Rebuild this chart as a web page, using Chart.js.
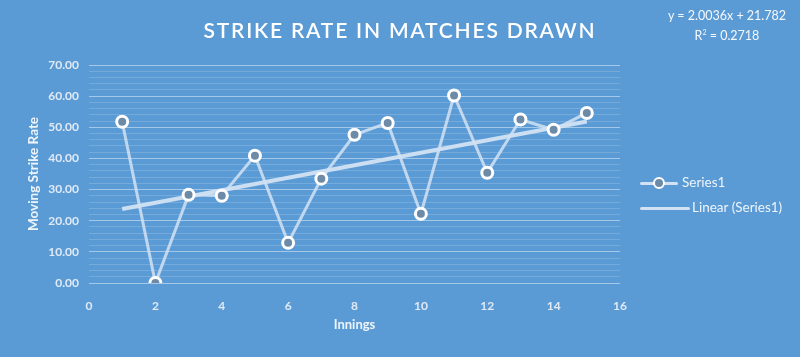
<!DOCTYPE html>
<html>
<head>
<meta charset="utf-8">
<script src="https://cdn.jsdelivr.net/npm/chart.js@4"></script>
<style>
  html, body { margin: 0; padding: 0; }
  body { width: 800px; height: 357px; background: #5b9bd5; position: relative; overflow: hidden; font-family: 'Lato', 'Open Sans', sans-serif; color: #f2f6fb; }
  #wrap { position: absolute; left: 0; top: 0; width: 800px; height: 357px; }
  #title { position: absolute; left: 0; top: 17px; width: 800px; text-align: center; font-size: 21px; line-height: 26px; font-weight: 600; letter-spacing: 1.8px; color: #ffffff; }
  #eq { position: absolute; left: 660px; top: 8px; width: 134px; text-align: center; font-size: 12.5px; line-height: 16px; color: #f4f8fc; }
  .leg { position: absolute; font-size: 13.5px; color: #eef4fa; white-space: nowrap; }
  .leg .ln { position: absolute; height: 3px; background: #d3e2f2; border-radius: 2px; }
  .leg .dot { position: absolute; width: 8px; height: 8px; border: 2.5px solid #ffffff; border-radius: 50%; background: #6d8aa6; }
</style>
</head>
<body>
<div id="wrap"><canvas id="c" width="800" height="357"></canvas></div>
<div id="title">STRIKE RATE IN MATCHES DRAWN</div>
<div id="eq">y = 2.0036x + 21.782<br>R<sup style="font-size:7px">2</sup> = 0.2718</div>
<div class="leg" style="left:640px; top:174px; width:150px; height:18px;">
  <div class="ln" style="left:0; top:8px; width:38px;"></div>
  <div class="dot" style="left:13px; top:3px;"></div>
  <span style="position:absolute; left:42px; top:0;">Series1</span>
</div>
<div class="leg" style="left:640px; top:199px; width:160px; height:18px;">
  <div class="ln" style="left:0; top:8px; width:50px;"></div>
  <span style="position:absolute; left:52px; top:0;">Linear (Series1)</span>
</div>
<script>
// innings and moving strike rate
const innings = [1, 2, 3, 4, 5, 6, 7, 8, 9, 10, 11, 12, 13, 14, 15];
const strikeRate = [51.8, 0, 28.3, 28.0, 40.9, 12.9, 33.5, 47.6, 51.4, 22.2, 60.2, 35.4, 52.5, 49.2, 54.6];

// linear trend endpoints (y = 2.0036x + 21.782 at x = 1 and x = 15)
const trendX = [1, 15];
const trendY = [23.79, 51.84];

const yMajorLabels = ['0.00', '10.00', '20.00', '30.00', '40.00', '50.00', '60.00', '70.00'];
const xTickLabels = ['0', '2', '4', '6', '8', '10', '12', '14', '16'];

const seriesPoints = innings.map((x, i) => ({ x: x, y: strikeRate[i] }));
const trendPoints = trendX.map((x, i) => ({ x: x, y: trendY[i] }));

const tickColor = '#dfeaf6';

new Chart(document.getElementById('c').getContext('2d'), {
  type: 'scatter',
  data: {
    datasets: [
      {
        label: 'Linear (Series1)',
        data: trendPoints,
        showLine: true,
        borderColor: 'rgba(215, 230, 245, 0.9)',
        borderWidth: 4,
        pointRadius: 0,
        order: 2
      },
      {
        label: 'Series1',
        data: seriesPoints,
        showLine: true,
        borderColor: 'rgba(210, 226, 244, 0.85)',
        borderWidth: 3,
        pointRadius: 5.5,
        pointBorderWidth: 3,
        pointBorderColor: '#ffffff',
        pointBackgroundColor: '#6d8aa6',
        order: 1
      }
    ]
  },
  options: {
    responsive: false,
    animation: false,
    layout: { padding: { top: 65, right: 180, bottom: 20, left: 22 } },
    plugins: { legend: { display: false }, tooltip: { enabled: false } },
    scales: {
      x: {
        min: 0, max: 16,
        ticks: {
          stepSize: 2,
          color: tickColor,
          font: { family: 'Lato', size: 12, weight: 'bold' },
          padding: 8,
          callback: (v) => xTickLabels.includes(String(v)) ? String(v) : ''
        },
        grid: { display: false },
        border: { display: false },
        title: {
          display: true, text: 'Innings', color: '#eef4fa',
          font: { family: 'Lato', size: 13, weight: 'bold' },
          padding: { top: 8 }
        },
        afterFit: (s) => { s.height = 54; }
      },
      y: {
        min: 0, max: 70,
        ticks: {
          stepSize: 2,
          autoSkip: false,
          color: tickColor,
          font: { family: 'Lato', size: 12, weight: 'bold' },
          padding: 10,
          callback: (v) => (v % 10 === 0) ? yMajorLabels[v / 10] : ''
        },
        grid: {
          drawTicks: false,
          lineWidth: 1,
          color: (ctx) => (ctx.tick && ctx.tick.value % 10 === 0) ? 'rgba(255,255,255,0.45)' : 'rgba(255,255,255,0.16)'
        },
        border: { display: false },
        title: {
          display: true, text: 'Moving Strike Rate', color: '#eef4fa',
          font: { family: 'Lato', size: 13.5, weight: 'bold' },
          padding: { bottom: 3 }
        },
        afterFit: (s) => { s.width = 67; }
      }
    }
  }
});
</script>
</body>
</html>
